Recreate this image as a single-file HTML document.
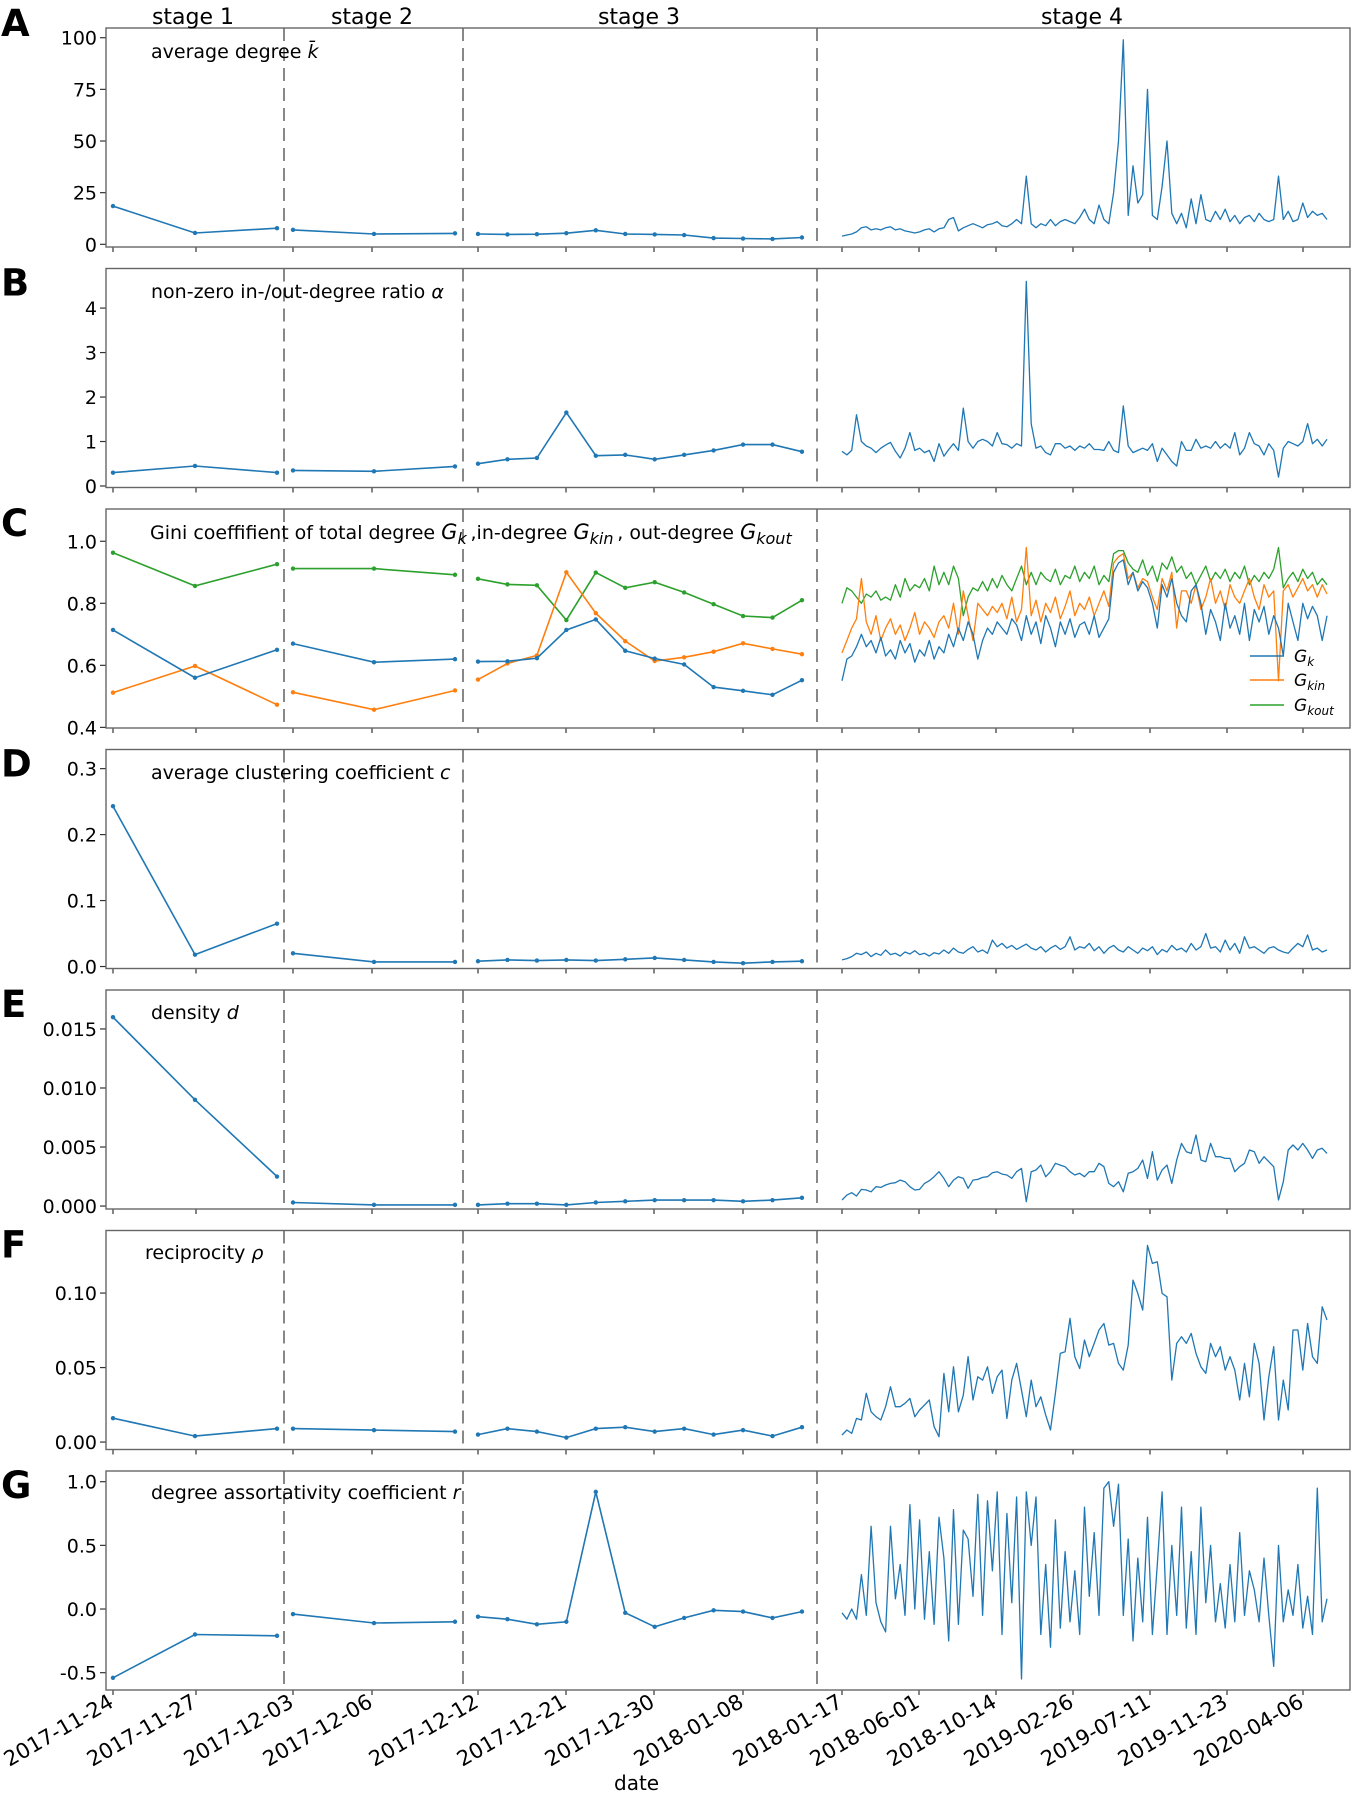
<!DOCTYPE html>
<html><head><meta charset="utf-8"><style>
html,body{margin:0;padding:0;background:#fff;}
svg{display:block;font-family:"DejaVu Sans","Liberation Sans",sans-serif;}
</style></head><body>
<svg id="fig" width="1352" height="1793" viewBox="0 0 1352 1793" xmlns="http://www.w3.org/2000/svg">
<rect x="0" y="0" width="1352" height="1793" fill="#fff"/>
<g id="layer"></g>
</svg>
<script>
// ---------- data ----------
const xTickLabels = ["2017-11-24","2017-11-27","2017-12-03","2017-12-06","2017-12-12","2017-12-21","2017-12-30","2018-01-08","2018-01-17","2018-06-01","2018-10-14","2019-02-26","2019-07-11","2019-11-23","2020-04-06"];
const stageLabels = ["stage 1","stage 2","stage 3","stage 4"];

const A1 = [18.5, 5.5, 7.8];
const A2 = [7, 5, 5.3];
const A3 = [5, 4.8, 4.9, 5.4, 6.8, 5, 4.8, 4.5, 3, 2.8, 2.6, 3.3];
const A4 = [4,4.5,5,6,8,8.5,7,7.5,7,8, 8.5,7,7.5,6.5,6,5.5,6,7,7.5,6, 7.5,8,12,13,6.5,8,9,10,9,8, 9.5,10,11,9,8.5,10,12,10,33,10, 8,10,9,12,9,11,12,11,10,13, 17,12,10,19,12,10,25,50,99,14, 38,20,24,75,14,12,28,50,15,10, 15,8,22,10,24,12,11,16,12,17, 11,14,10,13,14,11,15,12,11,12, 33,12,16,11,12,20,13,16,14,15, 12];

const B1 = [0.3, 0.45, 0.3];
const B2 = [0.35, 0.33, 0.44];
const B3 = [0.5, 0.6, 0.63, 1.65, 0.68, 0.7, 0.6, 0.7, 0.8, 0.93, 0.93, 0.77];
const B4 = [0.78,0.7,0.8,1.6,1.0,0.9,0.85,0.75,0.85,0.92, 0.98,0.78,0.63,0.85,1.2,0.8,0.85,0.75,0.8,0.55, 0.95,0.67,0.82,0.95,0.8,1.75,1.0,0.85,1.0,1.05, 1.0,0.9,1.2,0.95,0.93,0.85,0.95,0.9,4.6,1.4, 0.85,0.9,0.75,0.7,0.95,0.95,0.85,0.9,0.8,0.9, 0.85,0.95,0.82,0.82,0.8,1.0,0.8,0.75,1.8,0.9, 0.75,0.8,0.85,0.8,0.95,0.55,0.85,0.7,0.55,0.45, 1.0,0.8,0.8,1.05,0.85,0.9,0.85,1.0,0.85,0.95, 0.85,1.2,0.7,0.85,1.2,0.95,0.9,0.7,0.95,0.8, 0.2,0.85,1.0,0.95,0.9,1.0,1.4,0.95,1.05,0.9, 1.05];

const Gk1 = [0.714, 0.56, 0.65];
const Gk2 = [0.67, 0.61, 0.62];
const Gk3 = [0.612,0.613,0.623,0.714,0.748,0.647,0.622,0.603,0.53,0.518,0.505,0.552];
const Gk4 = [0.55,0.62,0.63,0.66,0.70,0.66,0.68,0.64,0.69,0.63, 0.65,0.62,0.68,0.64,0.67,0.61,0.65,0.63,0.68,0.62, 0.66,0.64,0.70,0.66,0.72,0.68,0.74,0.70,0.62,0.68, 0.72,0.70,0.74,0.72,0.70,0.75,0.73,0.68,0.76,0.70, 0.74,0.67,0.76,0.72,0.66,0.74,0.70,0.75,0.69,0.73, 0.74,0.70,0.76,0.69,0.72,0.75,0.90,0.93,0.94,0.86, 0.90,0.84,0.87,0.85,0.80,0.72,0.86,0.82,0.88,0.80, 0.76,0.74,0.84,0.86,0.80,0.70,0.78,0.74,0.68,0.80, 0.72,0.76,0.70,0.80,0.68,0.78,0.74,0.79,0.70,0.76, 0.72,0.63,0.80,0.74,0.68,0.80,0.75,0.79,0.76,0.68, 0.76];
const Gkin1 = [0.512, 0.598, 0.473];
const Gkin2 = [0.513, 0.457, 0.519];
const Gkin3 = [0.554,0.606,0.632,0.9,0.768,0.678,0.614,0.626,0.644,0.671,0.653,0.636];
const Gkin4 = [0.64,0.68,0.72,0.75,0.88,0.74,0.70,0.76,0.68,0.72, 0.75,0.70,0.73,0.68,0.72,0.77,0.70,0.74,0.72,0.69, 0.74,0.76,0.72,0.80,0.70,0.84,0.76,0.68,0.80,0.78, 0.76,0.79,0.77,0.80,0.75,0.82,0.74,0.78,0.98,0.76, 0.81,0.74,0.80,0.77,0.82,0.75,0.79,0.84,0.76,0.80, 0.78,0.82,0.76,0.80,0.84,0.79,0.93,0.95,0.96,0.88, 0.90,0.85,0.88,0.87,0.82,0.78,0.88,0.84,0.90,0.72, 0.84,0.84,0.80,0.86,0.78,0.82,0.88,0.80,0.84,0.78, 0.86,0.82,0.80,0.84,0.88,0.82,0.78,0.86,0.82,0.84, 0.55,0.84,0.86,0.82,0.85,0.88,0.84,0.86,0.82,0.86, 0.83];
const Gkout1 = [0.963, 0.856, 0.926];
const Gkout2 = [0.912, 0.912, 0.892];
const Gkout3 = [0.879,0.861,0.858,0.746,0.899,0.85,0.868,0.835,0.797,0.759,0.754,0.81];
const Gkout4 = [0.80,0.85,0.84,0.82,0.80,0.83,0.82,0.84,0.81,0.82, 0.81,0.86,0.82,0.88,0.84,0.86,0.85,0.88,0.84,0.92, 0.86,0.90,0.86,0.92,0.88,0.76,0.82,0.85,0.84,0.87, 0.84,0.88,0.85,0.89,0.86,0.84,0.88,0.92,0.86,0.90, 0.86,0.90,0.88,0.87,0.91,0.86,0.89,0.88,0.92,0.87, 0.90,0.88,0.92,0.86,0.89,0.87,0.96,0.97,0.97,0.93, 0.91,0.90,0.94,0.89,0.92,0.87,0.93,0.91,0.95,0.90, 0.92,0.88,0.90,0.86,0.89,0.92,0.87,0.90,0.88,0.91, 0.87,0.90,0.88,0.92,0.86,0.89,0.87,0.90,0.88,0.91, 0.98,0.85,0.88,0.90,0.87,0.91,0.88,0.90,0.86,0.88, 0.86];

const D1 = [0.243, 0.018, 0.065];
const D2 = [0.02, 0.007, 0.007];
const D3 = [0.008,0.01,0.009,0.01,0.009,0.011,0.013,0.01,0.007,0.005,0.007,0.008];
const D4 = [0.01,0.012,0.015,0.02,0.018,0.022,0.015,0.02,0.017,0.025, 0.018,0.02,0.016,0.022,0.019,0.024,0.018,0.02,0.016,0.021, 0.019,0.025,0.02,0.028,0.022,0.02,0.026,0.03,0.022,0.025, 0.02,0.04,0.03,0.035,0.028,0.032,0.026,0.03,0.034,0.028, 0.025,0.03,0.022,0.028,0.032,0.026,0.03,0.045,0.025,0.03, 0.028,0.035,0.024,0.03,0.02,0.028,0.032,0.025,0.022,0.03, 0.025,0.02,0.028,0.024,0.03,0.018,0.026,0.022,0.032,0.025, 0.028,0.022,0.035,0.025,0.03,0.05,0.028,0.03,0.022,0.04, 0.025,0.035,0.02,0.045,0.028,0.03,0.025,0.02,0.028,0.03, 0.025,0.022,0.02,0.028,0.035,0.03,0.048,0.025,0.028,0.022, 0.025];

const E1 = [0.016, 0.009, 0.0025];
const E2 = [0.0003, 0.0001, 0.0001];
const E3 = [0.0001,0.0002,0.0002,0.0001,0.0003,0.0004,0.0005,0.0005,0.0005,0.0004,0.0005,0.0007];
const E4milli = [0.51,0.93,1.13,0.85,1.41,1.36,1.21,1.64,1.58,1.78, 1.92,1.98,2.2,2.06,1.64,1.36,1.41,1.92,2.15,2.49, 2.91,2.34,1.64,2.2,2.49,2.34,1.5,2.2,2.26,2.43, 2.49,2.82,2.91,2.71,2.63,2.34,2.91,3.19,0.37,2.91, 3.05,3.47,2.49,2.91,3.62,3.47,3.33,2.91,2.63,2.77, 2.49,2.91,2.91,3.62,3.33,1.92,1.64,2.06,1.21,2.77, 2.91,3.19,3.9,2.34,4.6,2.2,3.05,3.47,1.92,3.9, 5.31,4.6,4.46,6.02,3.9,3.76,5.31,4.18,4.18,4.04, 4.04,2.91,3.33,3.62,4.75,4.6,3.62,4.18,3.76,3.33, 0.51,2.06,4.75,5.17,4.75,5.31,4.75,4.04,4.75,4.89, 4.46];

const F1 = [0.016, 0.004, 0.009];
const F2 = [0.009, 0.008, 0.007];
const F3 = [0.005,0.009,0.007,0.003,0.009,0.01,0.007,0.009,0.005,0.008,0.004,0.01];
const F4pct = [0.47,0.81,0.58,1.59,1.48,3.27,2.03,1.7,1.48,2.37, 3.71,2.37,2.37,2.6,2.93,1.7,2.15,2.48,2.82,1.03, 0.36,4.61,2.03,5.05,2.03,3.15,5.73,2.82,4.38,4.16, 5.05,3.27,4.38,4.83,1.59,4.16,5.28,3.49,1.7,4.16, 2.37,3.04,1.81,0.81,3.27,5.95,6.06,8.3,5.73,4.94, 6.85,5.73,6.62,7.52,7.96,6.51,6.62,5.28,4.83,6.51, 10.87,9.98,8.86,13.2,11.99,12.1,9.98,9.75,4.16,6.62, 7.07,6.62,7.29,5.95,5.05,4.61,6.62,5.73,6.4,4.83, 5.73,4.83,2.82,5.28,3.04,6.62,5.28,1.48,4.38,6.4, 1.48,4.16,2.15,7.52,7.52,4.83,7.96,5.73,5.28,9.08, 8.19];

const G1 = [-0.54, -0.2, -0.21];
const G2 = [-0.04, -0.11, -0.1];
const G3 = [-0.06,-0.08,-0.12,-0.1,0.92,-0.03,-0.14,-0.07,-0.01,-0.02,-0.07,-0.02];
const G4 = [-0.03,-0.08,0.0,-0.08,0.27,-0.05,0.65,0.05,-0.1,-0.18, 0.65,0.08,0.35,-0.05,0.82,0.0,0.7,-0.08,0.45,-0.12, 0.72,0.4,-0.25,0.78,-0.12,0.62,0.55,0.1,0.9,-0.05, 0.85,0.3,0.92,-0.2,0.75,0.05,0.88,-0.55,0.92,0.5, 0.88,-0.2,0.35,-0.3,0.7,-0.15,0.45,-0.1,0.3,-0.2, 0.8,0.1,0.6,-0.05,0.95,1.0,0.65,0.98,-0.05,0.55, -0.25,0.4,-0.1,0.72,-0.2,0.35,0.92,-0.2,0.5,-0.05, 0.8,-0.15,0.45,-0.2,0.8,0.05,0.5,-0.1,0.2,-0.15, 0.35,-0.1,0.6,-0.05,0.3,0.15,-0.1,0.4,-0.05,-0.45, 0.5,-0.1,0.15,-0.05,0.35,-0.15,0.1,-0.2,0.95,-0.1, 0.08];

const yTicksA = [0,25,50,75,100];
const yTicksB = [0,1,2,3,4];
const yTicksC = [0.4,0.6,0.8,1.0];
const yTicksD = [0.0,0.1,0.2,0.3];
const yTicksE = [0.000,0.005,0.010,0.015];
const yTicksF = [0.00,0.05,0.10];
const yTicksG = [-0.5,0.0,0.5,1.0];

// ---------- layout ----------
const NS = "http://www.w3.org/2000/svg";
const layer = document.getElementById("layer");
const L = 106, R = 1350, H = 219;
const tickXs = [113,196,293,372,478,566,654,743,842,919,996,1073,1150,1227,1303];
const dashXs = [284,463,817];
const C1 = "#1f77b4", C2 = "#ff7f0e", C3 = "#2ca02c";

function el(tag, attrs, parent){
  const e = document.createElementNS(NS, tag);
  for (const k in attrs) e.setAttribute(k, attrs[k]);
  (parent || layer).appendChild(e);
  return e;
}
function sx1(i){ return 113 + i*82; }
function sx2(i){ return 293 + i*81; }
function sx3(i){ return 478 + i*29.45; }
function sx4(i, n){ return 842 + i*(485/(n-1)); }

function fmt(v, dec){ return (v<0?"-":"") + Math.abs(v).toFixed(dec); }

const panels = [
  {key:"A", top:28, ymin:-1.3, ymax:104.7, ticks:yTicksA, dec:0, name:"average-degree-panel"},
  {key:"B", top:268.5, ymin:-0.034, ymax:4.89, ticks:yTicksB, dec:0, name:"degree-ratio-panel"},
  {key:"C", top:509, ymin:0.398, ymax:1.104, ticks:yTicksC, dec:1, name:"gini-panel"},
  {key:"D", top:749.5, ymin:-0.003, ymax:0.329, ticks:yTicksD, dec:1, name:"clustering-panel"},
  {key:"E", top:990, ymin:-0.00025, ymax:0.0183, ticks:yTicksE, dec:3, name:"density-panel"},
  {key:"F", top:1230.5, ymin:-0.005, ymax:0.142, ticks:yTicksF, dec:2, name:"reciprocity-panel"},
  {key:"G", top:1471, ymin:-0.636, ymax:1.084, ticks:yTicksG, dec:1, name:"assortativity-panel"}
];

function drawSeries(g, p, s1, s2, s3, s4, color, nm){
  const ys = v => p.top + H - (v - p.ymin)/(p.ymax - p.ymin)*H;
  const parts = [[s1,sx1],[s2,sx2],[s3,sx3]];
  parts.forEach((pr, k) => {
    const arr = pr[0], f = pr[1];
    const pts = arr.map((v,i)=> f(i).toFixed(1)+","+ys(v).toFixed(1)).join(" ");
    const pl = el("polyline", {points:pts, fill:"none", stroke:color, "stroke-width":1.6}, g);
    
    
    arr.forEach((v,i)=>{
      const c = el("circle", {cx:f(i), cy:ys(v), r:2.2, fill:color}, g);
      
      
    });
  });
  const n = s4.length;
  const pts4 = s4.map((v,i)=> sx4(i,n).toFixed(1)+","+ys(v).toFixed(1)).join(" ");
  const pl4 = el("polyline", {points:pts4, fill:"none", stroke:color, "stroke-width":1.3, "stroke-linejoin":"round"}, g);
  
  
}

panels.forEach((p, pi) => {
  const g = el("g", {});
  
  
  const ys = v => p.top + H - (v - p.ymin)/(p.ymax - p.ymin)*H;
  dashXs.forEach(x => {
    const d = el("line", {x1:x, x2:x, y1:p.top, y2:p.top+H, stroke:"#555", "stroke-width":1.4, "stroke-dasharray":"13,7"}, g);
    
    
  });
  p.ticks.forEach(t => {
    const y = ys(t);
    el("line", {x1:100, x2:L, y1:y, y2:y, stroke:"#333", "stroke-width":1.2}, g);
    const tx = el("text", {x:97, y:y+7, "text-anchor":"end", "font-size":19, fill:"#000"}, g);
    tx.textContent = fmt(t, p.dec);
    
    
  });
  tickXs.forEach(x => {
    el("line", {x1:x, x2:x, y1:p.top+H, y2:p.top+H+5, stroke:"#333", "stroke-width":1.2}, g);
  });
  const fr = el("rect", {x:L, y:p.top, width:R-L, height:H, fill:"none", stroke:"#666", "stroke-width":1.4}, g);
  
  
  const lt = el("text", {x:1, y:(pi===0? p.top+8 : p.top+27), "font-size":37, "font-weight":"bold", fill:"#000"}, g);
  lt.textContent = p.key;
  
  
});

drawSeries(layer, panels[0], A1, A2, A3, A4, C1, "avg-degree");
drawSeries(layer, panels[1], B1, B2, B3, B4, C1, "degree-ratio");
drawSeries(layer, panels[2], Gkout1, Gkout2, Gkout3, Gkout4, C3, "gini-kout");
drawSeries(layer, panels[2], Gkin1, Gkin2, Gkin3, Gkin4, C2, "gini-kin");
drawSeries(layer, panels[2], Gk1, Gk2, Gk3, Gk4, C1, "gini-k");
drawSeries(layer, panels[3], D1, D2, D3, D4, C1, "clustering");
drawSeries(layer, panels[4], E1, E2, E3, E4milli.map(v=>v/1000), C1, "density");
drawSeries(layer, panels[5], F1, F2, F3, F4pct.map(v=>v/100), C1, "reciprocity");
drawSeries(layer, panels[6], G1, G2, G3, G4, C1, "assortativity");

const gb = panels[6].top + H;
tickXs.forEach((x, i) => {
  const t = el("text", {x:x+2, y:gb+16, "text-anchor":"end", "font-size":21, fill:"#000", transform:`rotate(-30 ${x+2} ${gb+16})`});
  t.textContent = xTickLabels[i];
  
  
});
const stageXs = [193, 372, 639, 1082];
stageLabels.forEach((s, i) => {
  const t = el("text", {x:stageXs[i], y:24, "text-anchor":"middle", "font-size":22, fill:"#000"});
  t.textContent = s;
  
  
});
</script>
<script>
(function(){
  const NS2 = "http://www.w3.org/2000/svg";
  const L2 = document.getElementById("layer");
  function txt(x, y, html, nm, size){
    const t = document.createElementNS(NS2, "text");
    t.setAttribute("x", x); t.setAttribute("y", y);
    t.setAttribute("font-size", size || 19);
    t.innerHTML = html;
    
    
    L2.appendChild(t);
  }
  const G = s => `<tspan font-style="italic" font-size="21">G</tspan><tspan font-size="16" font-style="italic" dy="5">${s}</tspan><tspan dy="-5" font-size="19">&#8201;</tspan>`;
  txt(151, 58, 'average degree <tspan font-style="italic">k&#772;</tspan>', 'average-degree-title');
  txt(151, 298, 'non-zero in-/out-degree ratio <tspan font-style="italic">α</tspan>', 'degree-ratio-title');
  txt(150, 539, 'Gini coeffifient of total degree ' + G('k') + ',in-degree ' + G('kin') + ', out-degree ' + G('kout'), 'gini-title');
  txt(151, 779, 'average clustering coefficient <tspan font-style="italic">c</tspan>', 'clustering-title');
  txt(151, 1019, 'density <tspan font-style="italic">d</tspan>', 'density-title');
  txt(145, 1259, 'reciprocity <tspan font-style="italic">ρ</tspan>', 'reciprocity-title');
  txt(151, 1499, 'degree assortativity coefficient <tspan font-style="italic">r</tspan>', 'assortativity-title');
  txt(614, 1790, 'date', 'x-axis-title', 20);
  const rows = [["#1f77b4","k",656],["#ff7f0e","kin",680],["#2ca02c","kout",705]];
  rows.forEach(r => {
    const ln = document.createElementNS(NS2, "line");
    ln.setAttribute("x1",1250); ln.setAttribute("x2",1284);
    ln.setAttribute("y1",r[2]); ln.setAttribute("y2",r[2]);
    ln.setAttribute("stroke",r[0]); ln.setAttribute("stroke-width",1.6);
    
    
    L2.appendChild(ln);
    txt(1294, r[2]+6, `<tspan font-style="italic">G</tspan><tspan font-size="12" font-style="italic" dy="4">${r[1]}</tspan>`, 'legend-entry', 17);
  });
})();
</script>
</body></html>
